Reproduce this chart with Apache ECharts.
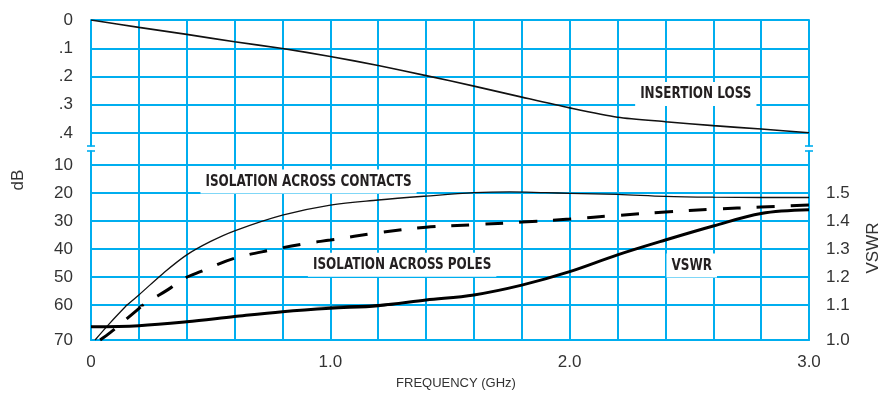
<!DOCTYPE html>
<html><head><meta charset="utf-8">
<script src="https://cdn.jsdelivr.net/npm/echarts@6/dist/echarts.min.js"></script>
<style>html,body{margin:0;padding:0;background:#fff}#c{width:888px;height:395px}</style>
</head><body><div id="c"></div>
<script>
// ---- data ----
const ilFreq = [0, 0.2, 0.4, 0.6, 0.8, 1.0, 1.2, 1.4, 1.6, 1.8, 2.0, 2.2, 2.4, 2.6, 2.8, 3.0];
const insertionLoss = [0, 0.026, 0.051, 0.077, 0.101, 0.129, 0.161, 0.197, 0.234, 0.273, 0.311, 0.344, 0.360, 0.374, 0.386, 0.399];

const contactsFreq = [0.017, 0.08, 0.2, 0.3, 0.4, 0.5, 0.6, 0.8, 1.0, 1.2, 1.4, 1.6, 1.75, 1.9, 2.0, 2.2, 2.4, 2.6, 2.8, 3.0];
const isolationContacts = [70, 65.1, 56.4, 48.8, 42.1, 37.3, 33.5, 27.9, 24.3, 22.5, 21.1, 19.9, 19.6, 19.9, 20.1, 20.5, 21.2, 21.5, 21.6, 21.6];

const polesFreq = [0.038, 0.08, 0.19, 0.25, 0.32, 0.39, 0.46, 0.6, 0.75, 0.9, 1.0, 1.2, 1.4, 1.6, 1.8, 2.0, 2.2, 2.4, 2.6, 2.8, 3.0];
const isolationPoles = [70, 67.9, 61.6, 58.2, 54.6, 50.5, 48.0, 43.3, 40.4, 38.0, 36.8, 34.2, 32.2, 31.3, 30.4, 29.3, 28.0, 26.8, 25.8, 25.0, 24.3];

const vswrFreq = [0, 0.2, 0.4, 0.6, 0.8, 1.0, 1.2, 1.4, 1.6, 1.8, 2.0, 2.2, 2.4, 2.6, 2.8, 3.0];
const vswr = [1.038, 1.041, 1.052, 1.067, 1.081, 1.091, 1.098, 1.118, 1.136, 1.171, 1.219, 1.279, 1.332, 1.382, 1.427, 1.440];

// ---- tick labels ----
const freqTickValues = [0, 1, 2, 3];
const freqTickLabels = ['0', '1.0', '2.0', '3.0'];
const ilTickValues = [0, 0.1, 0.2, 0.3, 0.4];
const ilTickLabels = ['0', '.1', '.2', '.3', '.4'];
const isoTickValues = [10, 20, 30, 40, 50, 60, 70];
const isoTickLabels = ['10', '20', '30', '40', '50', '60', '70'];
const vswrTickValues = [1.0, 1.1, 1.2, 1.3, 1.4, 1.5];
const vswrTickLabels = ['1.0', '1.1', '1.2', '1.3', '1.4', '1.5'];

const annotationTexts = ['INSERTION LOSS', 'ISOLATION ACROSS CONTACTS', 'ISOLATION ACROSS POLES', 'VSWR'];

// ---- helpers ----
function lookup(vals, labels, v) {
  const i = vals.findIndex(t => Math.abs(t - v) < 1e-6);
  return i >= 0 ? labels[i] : '';
}
const pair = (xs, ys) => xs.map((x, i) => [x, ys[i]]);

const CYAN = '#00AEEF';
const TXT = '#333333';
const tickFont = { fontFamily: '"Liberation Sans", Arial, sans-serif', fontSize: 17, color: TXT };
const cyanLine = { show: true, lineStyle: { color: CYAN, width: 2 } };
const L = 91, R = 79;

const hiddenX = (g) => ({ type: 'value', gridIndex: g, min: 0, max: 3, interval: 0.2, show: false });

const chart = echarts.init(document.getElementById('c'), null, { renderer: 'canvas' });

const option = {
  animation: false,
  backgroundColor: '#fff',
  grid: [
    { left: L, right: R, top: 20, bottom: 55 },   // frame
    { left: L, right: R, top: 20, bottom: 262 },  // insertion loss
    { left: L, right: R, top: 165, bottom: 90 },  // isolation 10..60 / VSWR 1.1..1.6
    { left: L, right: R, top: 305, bottom: 55 }   // isolation 60..70 / VSWR 1.0..1.1
  ],
  xAxis: [
    {
      type: 'value', gridIndex: 0, min: 0, max: 3, interval: 0.2,
      axisLine: cyanLine, axisTick: { show: false },
      splitLine: cyanLine,
      axisLabel: Object.assign({ margin: 14, formatter: v => lookup(freqTickValues, freqTickLabels, v) }, tickFont),
      name: 'FREQUENCY (GHz)', nameLocation: 'middle', nameGap: 37,
      nameTextStyle: { fontFamily: '"Liberation Sans", Arial, sans-serif', fontSize: 13, color: TXT, padding: [0, 0, 0, 12] }
    },
    hiddenX(1), hiddenX(2), hiddenX(3)
  ],
  yAxis: [
    { type: 'value', gridIndex: 0, min: 0, max: 1, axisLine: cyanLine, axisTick: { show: false },
      axisLabel: { show: false }, splitLine: { show: false },
      name: 'dB', nameLocation: 'middle', nameGap: 64,
      nameTextStyle: { fontFamily: '"Liberation Sans", Arial, sans-serif', fontSize: 17, color: TXT } },
    { type: 'value', gridIndex: 0, position: 'right', min: 0, max: 1, axisLine: cyanLine, axisTick: { show: false },
      axisLabel: { show: false }, splitLine: { show: false } },
    { type: 'value', gridIndex: 1, min: 0, max: 0.4, interval: 0.1, inverse: true,
      axisLine: { show: false }, axisTick: { show: false }, splitLine: cyanLine,
      axisLabel: Object.assign({ margin: 18, formatter: v => lookup(ilTickValues, ilTickLabels, v) }, tickFont) },
    { type: 'value', gridIndex: 2, min: 10, max: 60, interval: 10, inverse: true,
      axisLine: { show: false }, axisTick: { show: false }, splitLine: cyanLine,
      axisLabel: Object.assign({ margin: 18, formatter: v => lookup(isoTickValues, isoTickLabels, v) }, tickFont) },
    { type: 'value', gridIndex: 2, position: 'right', min: 1.1, max: 1.6, interval: 0.1,
      axisLine: { show: false }, axisTick: { show: false }, splitLine: { show: false },
      axisLabel: Object.assign({ margin: 17, formatter: v => lookup(vswrTickValues, vswrTickLabels, v) }, tickFont) },
    { type: 'value', gridIndex: 3, min: 60, max: 70, interval: 10, inverse: true,
      axisLine: { show: false }, axisTick: { show: false }, splitLine: cyanLine,
      axisLabel: Object.assign({ margin: 18, formatter: v => v > 60.5 ? lookup(isoTickValues, isoTickLabels, v) : '' }, tickFont) },
    { type: 'value', gridIndex: 3, position: 'right', min: 1.0, max: 1.1, interval: 0.1,
      axisLine: { show: false }, axisTick: { show: false }, splitLine: { show: false },
      axisLabel: Object.assign({ margin: 17, formatter: v => v < 1.05 ? lookup(vswrTickValues, vswrTickLabels, v) : '' }, tickFont) }
  ],
  series: [
    { name: 'Insertion Loss', type: 'line', xAxisIndex: 1, yAxisIndex: 2, data: pair(ilFreq, insertionLoss),
      symbol: 'none', smooth: 0.25, lineStyle: { color: '#111', width: 1.6 } },
    { name: 'Isolation Across Contacts', type: 'line', xAxisIndex: 2, yAxisIndex: 3, data: pair(contactsFreq, isolationContacts),
      symbol: 'none', smooth: 0.35, clip: true, lineStyle: { color: '#111', width: 1.3 } },
    { name: 'Isolation Across Contacts', type: 'line', xAxisIndex: 3, yAxisIndex: 5, data: pair(contactsFreq, isolationContacts),
      symbol: 'none', smooth: 0.35, clip: true, lineStyle: { color: '#111', width: 1.3 } },
    { name: 'Isolation Across Poles', type: 'line', xAxisIndex: 2, yAxisIndex: 3, data: pair(polesFreq, isolationPoles),
      symbol: 'none', smooth: 0.35, clip: true, lineStyle: { color: '#000', width: 3, type: [18, 16] } },
    { name: 'Isolation Across Poles', type: 'line', xAxisIndex: 3, yAxisIndex: 5, data: pair(polesFreq, isolationPoles),
      symbol: 'none', smooth: 0.35, clip: true, lineStyle: { color: '#000', width: 3, type: [18, 16] } },
    { name: 'VSWR', type: 'line', xAxisIndex: 2, yAxisIndex: 4, data: pair(vswrFreq, vswr),
      symbol: 'none', smooth: 0.35, clip: true, lineStyle: { color: '#000', width: 3 } },
    { name: 'VSWR', type: 'line', xAxisIndex: 3, yAxisIndex: 6, data: pair(vswrFreq, vswr),
      symbol: 'none', smooth: 0.35, clip: true, lineStyle: { color: '#000', width: 3 } }
  ]
};
chart.setOption(option);

// ---- annotations and axis-break marks, positioned through the chart's scales ----
const annFont = 'bold 16px "DejaVu Sans Condensed", "DejaVu Sans", sans-serif';
const annAnchors = [
  { s: 0, p: [2.527, 0.262] },
  { s: 1, p: [0.909, 15.9] },
  { s: 1, p: [1.30, 45.6] },
  { s: 1, p: [2.51, 45.9] }
];
const graphics = [];
annAnchors.forEach((a, i) => {
  const px = chart.convertToPixel({ seriesIndex: a.s }, a.p);
  graphics.push({
    type: 'text', x: px[0], y: px[1], z: 100, scaleX: 0.835,
    style: { text: annotationTexts[i], font: annFont, fill: '#231f20', align: 'center', verticalAlign: 'middle',
             backgroundColor: '#fff', padding: [4, 6] }
  });
});
const yTop = chart.convertToPixel({ seriesIndex: 0 }, [0, 0.4])[1];
const yBot = chart.convertToPixel({ seriesIndex: 1 }, [0, 10])[1];
const yMid = (yTop + yBot) / 2 - 0.5;
[0, 3].forEach(f => {
  const xp = chart.convertToPixel({ seriesIndex: 0 }, [f, 0])[0];
  graphics.push({ type: 'rect', z: 100, shape: { x: xp - 3, y: yMid - 2, width: 6, height: 4 }, style: { fill: '#fff' } });
  graphics.push({ type: 'line', z: 101, shape: { x1: xp - 4, y1: yMid - 2.5, x2: xp + 4, y2: yMid - 2.5 }, style: { stroke: CYAN, lineWidth: 1.6 } });
  graphics.push({ type: 'line', z: 101, shape: { x1: xp - 4, y1: yMid + 2.5, x2: xp + 4, y2: yMid + 2.5 }, style: { stroke: CYAN, lineWidth: 1.6 } });
});
const xRightEdge = chart.convertToPixel({ seriesIndex: 0 }, [3, 0])[0];
const yVswrMid = chart.convertToPixel({ seriesIndex: 5 }, [0, 1.3])[1];
graphics.push({
  type: 'text', x: xRightEdge + 64, y: yVswrMid - 1, rotation: Math.PI / 2, z: 100,
  style: { text: 'VSWR', font: '17px "Liberation Sans", Arial, sans-serif', fill: TXT, align: 'center', verticalAlign: 'middle' }
});
chart.setOption({ graphic: graphics });
</script>
</body></html>
